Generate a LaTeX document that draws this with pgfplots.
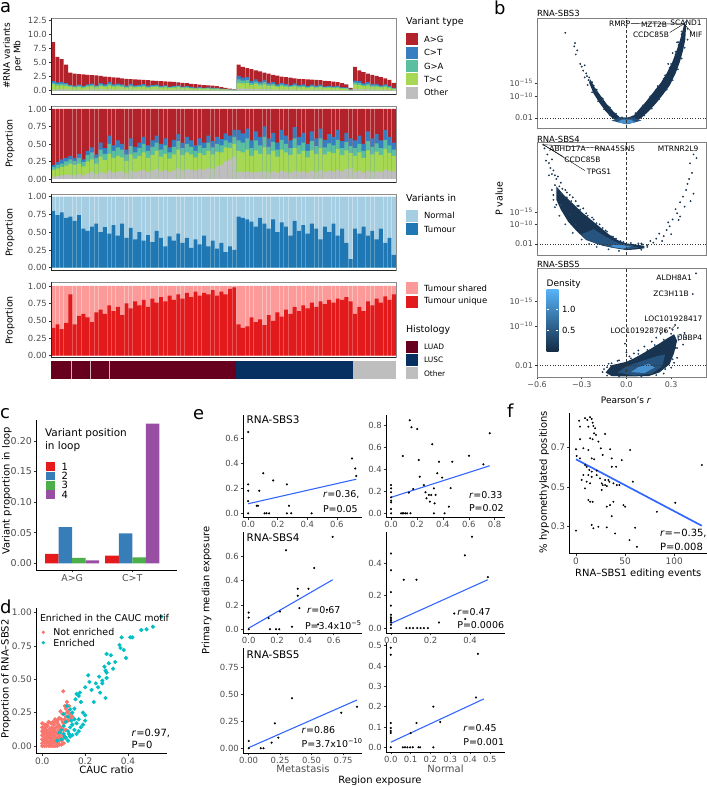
\documentclass[border=0pt]{standalone}
\usepackage{fontspec}
\setmainfont{DejaVu Sans}
\usepackage{pgfplots}
\usepackage{pgfplotstable}
\pgfplotsset{compat=1.18}
\newcommand{\fs}[1]{\fontsize{#1}{#1}\selectfont}
\definecolor{cAG}{RGB}{178,34,42}
\definecolor{cCT}{RGB}{55,126,193}
\definecolor{cGA}{RGB}{92,190,160}
\definecolor{cTC}{RGB}{166,216,84}
\definecolor{cOT}{RGB}{190,190,190}
\definecolor{cNorm}{RGB}{166,206,227}
\definecolor{cTum}{RGB}{31,120,180}
\definecolor{cShr}{RGB}{251,154,153}
\definecolor{cUni}{RGB}{227,26,28}
\definecolor{cLUAD}{RGB}{103,0,31}
\definecolor{cLUSC}{RGB}{5,48,97}
\definecolor{tickg}{RGB}{77,77,77}
\definecolor{navyA}{RGB}{25,52,80}
\definecolor{navyP}{RGB}{36,72,108}
\definecolor{navyB}{RGB}{38,84,126}
\definecolor{navyC}{RGB}{70,146,208}
\definecolor{dbot}{RGB}{19,43,67}
\definecolor{dtop}{RGB}{86,177,247}
\definecolor{c1}{RGB}{228,26,28}
\definecolor{c2}{RGB}{55,126,184}
\definecolor{c3}{RGB}{77,175,74}
\definecolor{c4}{RGB}{152,78,163}
\definecolor{salm}{RGB}{248,118,109}
\definecolor{teal2}{RGB}{0,191,196}
\definecolor{fitb}{RGB}{51,102,255}

\pgfplotstableread{
i tot b g t o p1 p2 p3 p4 tu un one
0 8.6 1.70 1.40 1.10 0.20 0.20 0.17 0.13 0.03 0.80 0.40 1
1 6.0 1.45 1.20 0.90 0.25 0.24 0.20 0.15 0.04 0.74 0.45 1
2 5.6 1.55 1.25 0.95 0.28 0.28 0.22 0.17 0.05 0.78 0.38 1
3 4.6 1.40 1.15 0.87 0.28 0.30 0.25 0.19 0.06 0.70 0.47 1
4 3.2 1.05 0.90 0.70 0.20 0.33 0.28 0.22 0.06 0.72 0.88 1
5 3.0 0.90 0.78 0.60 0.15 0.30 0.26 0.20 0.05 0.66 0.45 1
6 2.95 1.06 0.88 0.65 0.20 0.36 0.30 0.22 0.07 0.74 0.57 1
7 2.9 0.80 0.70 0.52 0.15 0.28 0.24 0.18 0.05 0.55 0.60 1
8 2.8 1.12 0.95 0.70 0.22 0.40 0.34 0.25 0.08 0.52 0.55 1
9 2.75 1.24 1.05 0.77 0.28 0.45 0.38 0.28 0.10 0.58 0.48 1
10 2.7 0.95 0.81 0.60 0.19 0.35 0.30 0.22 0.07 0.62 0.62 1
11 2.6 1.35 1.10 0.83 0.26 0.52 0.42 0.32 0.10 0.50 0.66 1
12 2.5 1.10 0.90 0.68 0.20 0.44 0.36 0.27 0.08 0.57 0.60 1
13 2.45 1.52 1.22 0.88 0.29 0.62 0.50 0.36 0.12 0.48 0.72 1
14 2.35 1.13 0.94 0.70 0.21 0.48 0.40 0.30 0.09 0.60 0.64 1
15 2.3 1.27 1.04 0.76 0.23 0.55 0.45 0.33 0.10 0.45 0.70 1
16 2.2 1.10 0.92 0.68 0.24 0.50 0.42 0.31 0.11 0.62 0.58 1
17 2.1 0.88 0.74 0.55 0.17 0.42 0.35 0.26 0.08 0.42 0.75 1
18 2.05 1.19 0.96 0.72 0.25 0.58 0.47 0.35 0.12 0.56 0.68 1
19 2.0 0.92 0.76 0.58 0.20 0.46 0.38 0.29 0.10 0.40 0.78 1
20 1.95 1.01 0.86 0.64 0.23 0.52 0.44 0.33 0.12 0.50 0.72 1
21 1.9 1.14 0.95 0.72 0.25 0.60 0.50 0.38 0.13 0.38 0.80 1
22 1.85 0.89 0.74 0.56 0.19 0.48 0.40 0.30 0.10 0.46 0.70 1
23 1.8 0.99 0.83 0.61 0.22 0.55 0.46 0.34 0.12 0.36 0.82 1
24 1.75 1.09 0.91 0.70 0.25 0.62 0.52 0.40 0.14 0.52 0.76 1
25 1.7 0.85 0.71 0.54 0.19 0.50 0.42 0.32 0.11 0.42 0.84 1
26 1.65 0.96 0.79 0.59 0.21 0.58 0.48 0.36 0.13 0.30 0.78 1
27 1.6 0.72 0.61 0.46 0.16 0.45 0.38 0.29 0.10 0.44 0.86 1
28 1.55 0.87 0.71 0.54 0.19 0.56 0.46 0.35 0.12 0.38 0.80 1
29 1.48 0.95 0.80 0.62 0.22 0.64 0.54 0.42 0.15 0.48 0.88 1
30 1.4 0.73 0.62 0.48 0.17 0.52 0.44 0.34 0.12 0.35 0.82 1
31 1.32 0.79 0.66 0.50 0.18 0.60 0.50 0.38 0.14 0.42 0.90 1
32 1.22 0.67 0.56 0.43 0.16 0.55 0.46 0.35 0.13 0.28 0.84 1
33 1.15 0.55 0.46 0.36 0.14 0.48 0.40 0.31 0.12 0.40 0.92 1
34 1.08 0.63 0.52 0.40 0.15 0.58 0.48 0.37 0.14 0.33 0.86 1
35 1.0 0.52 0.44 0.34 0.13 0.52 0.44 0.34 0.13 0.45 0.90 1
36 0.95 0.59 0.49 0.38 0.15 0.62 0.52 0.40 0.16 0.30 0.88 1
37 0.9 0.49 0.41 0.32 0.13 0.54 0.45 0.35 0.14 0.38 0.94 1
38 0.8 0.48 0.40 0.31 0.14 0.60 0.50 0.39 0.18 0.27 0.86 1
39 0.65 0.37 0.31 0.25 0.13 0.57 0.48 0.38 0.20 0.35 0.92 1
40 0.5 0.33 0.28 0.23 0.13 0.65 0.55 0.45 0.25 0.22 0.88 1
41 0.38 0.24 0.20 0.17 0.11 0.62 0.52 0.44 0.28 0.30 0.96 1
42 0.22 0.15 0.13 0.11 0.07 0.70 0.60 0.50 0.32 0.25 0.98 1
43 4.6 2.60 2.00 1.40 0.35 0.70 0.55 0.40 0.10 0.72 0.45 1
44 4.2 2.30 1.80 1.30 0.35 0.65 0.52 0.38 0.10 0.70 0.40 1
45 4.0 2.40 1.90 1.35 0.35 0.72 0.58 0.42 0.11 0.68 0.42 1
46 3.8 1.70 1.35 1.00 0.28 0.55 0.44 0.33 0.09 0.65 0.55 1
47 3.6 2.00 1.60 1.20 0.30 0.68 0.55 0.41 0.10 0.58 0.48 1
48 3.4 1.60 1.30 0.95 0.27 0.60 0.48 0.36 0.10 0.70 0.52 1
49 3.2 1.90 1.50 1.10 0.30 0.75 0.60 0.45 0.12 0.62 0.44 1
50 3.0 1.40 1.10 0.85 0.22 0.58 0.46 0.35 0.09 0.55 0.58 1
51 2.8 1.50 1.20 0.90 0.25 0.66 0.53 0.40 0.11 0.68 0.50 1
52 2.65 1.10 0.90 0.68 0.19 0.52 0.42 0.32 0.09 0.50 0.62 1
53 2.5 1.40 1.10 0.84 0.24 0.70 0.56 0.42 0.12 0.64 0.56 1
54 2.4 1.20 0.96 0.73 0.19 0.62 0.50 0.38 0.10 0.58 0.66 1
55 2.3 1.00 0.80 0.62 0.17 0.55 0.44 0.34 0.09 0.45 0.60 1
56 2.2 1.30 1.02 0.77 0.21 0.74 0.58 0.44 0.12 0.66 0.70 1
57 2.1 1.00 0.80 0.60 0.17 0.60 0.48 0.36 0.10 0.52 0.64 1
58 2.05 1.10 0.86 0.66 0.18 0.66 0.52 0.40 0.11 0.60 0.72 1
59 2.0 0.80 0.64 0.50 0.14 0.50 0.40 0.31 0.09 0.48 0.68 1
60 1.95 1.06 0.84 0.64 0.19 0.68 0.54 0.41 0.12 0.62 0.76 1
61 1.9 0.88 0.71 0.55 0.15 0.58 0.47 0.36 0.10 0.55 0.70 1
62 1.85 1.07 0.86 0.65 0.19 0.72 0.58 0.44 0.13 0.40 0.78 1
63 1.75 0.78 0.63 0.49 0.14 0.56 0.45 0.35 0.10 0.58 0.74 1
64 1.7 0.87 0.69 0.53 0.16 0.64 0.51 0.39 0.12 0.50 0.80 1
65 1.6 0.77 0.61 0.47 0.14 0.60 0.48 0.37 0.11 0.62 0.76 1
66 1.5 0.84 0.67 0.52 0.16 0.70 0.56 0.43 0.13 0.45 0.82 1
67 1.35 0.58 0.48 0.37 0.12 0.54 0.44 0.34 0.11 0.55 0.80 1
68 1.1 0.58 0.47 0.36 0.12 0.66 0.53 0.41 0.14 0.35 0.84 1
69 0.5 0.23 0.19 0.15 0.06 0.58 0.47 0.37 0.15 0.12 0.78 1
70 4.2 1.80 1.45 1.10 0.30 0.55 0.44 0.33 0.10 0.55 0.60 1
71 3.6 1.70 1.35 1.00 0.30 0.62 0.50 0.38 0.12 0.48 0.70 1
72 3.3 1.30 1.05 0.80 0.22 0.50 0.40 0.30 0.09 0.58 0.64 1
73 3.0 1.50 1.20 0.90 0.27 0.68 0.54 0.41 0.12 0.45 0.78 1
74 2.8 1.20 0.96 0.73 0.21 0.58 0.46 0.35 0.10 0.52 0.72 1
75 2.6 1.20 0.95 0.73 0.20 0.64 0.51 0.39 0.11 0.40 0.82 1
76 2.4 0.95 0.76 0.59 0.17 0.55 0.44 0.34 0.10 0.55 0.76 1
77 2.2 1.10 0.88 0.68 0.20 0.70 0.56 0.43 0.13 0.35 0.85 1
78 1.9 0.82 0.66 0.50 0.16 0.60 0.48 0.37 0.12 0.42 0.80 1
79 1.4 0.52 0.42 0.33 0.11 0.52 0.42 0.33 0.11 0.18 0.88 1
}\adata

\tikzset{t/.style={inner sep=0pt, outer sep=0pt}}
\pgfplotsset{
  base/.style={scale only axis, anchor=north west, tick align=outside,
    major tick length=2.5pt, tick pos=left,
    every tick/.append style={black!80, line width=0.5pt},
    ticklabel style={font=\fs{8.5}, text=tickg, inner sep=1.5pt},
    /pgf/number format/assume math mode=true},
  classic/.style={base, axis x line*=bottom, axis y line*=left,
    every non boxed x axis/.append style={x axis line style=-},
    every non boxed y axis/.append style={y axis line style=-},
    axis line style={-, black, line width=0.6pt}},
  apanel/.style={base, width=345bp, xmin=-0.5, xmax=79.5, xtick=\empty,
    axis line style={black!45, line width=0.6pt},
    after end axis/.code={\draw[black!85, line width=0.7pt] (rel axis cs:0,1) -- (rel axis cs:0,0) -- (rel axis cs:1,0);}},
  abar/.style={ybar, bar width=0.9, bar shift=0pt, draw=none},
  bpanel/.style={base, width=169bp, xmin=-0.6, xmax=0.534, clip=false,
    axis line style={black!50, line width=0.5pt},
    ticklabel style={font=\fs{8}},
    ytick={2,10,15}, yticklabels={0.01,10\textsuperscript{−10},10\textsuperscript{−15}}},
  pts/.style={only marks, mark=*, mark size=0.7pt, mark options={draw=none}},
  epts/.style={only marks, mark=*, mark size=0.85pt, black, mark options={draw=none}},
  efit/.style={fitb, line width=1.1pt},
}

\begin{document}
\begin{tikzpicture}[x=1bp,y=1bp]
\useasboundingbox (0,0) rectangle (707,787);

% ================= panel a =================
\node[t, anchor=base west, font=\fs{18}] at (0,774.3) {a};
\begin{axis}[apanel, at={(51bp,768.7bp)}, height=75.7bp, ymin=-0.58, ymax=12.8,
  ytick={0,2.5,5,7.5,10,12.5}, yticklabels={0.0,2.5,5.0,7.5,10.0,12.5}]
\addplot[abar, fill=cAG] table[x=i,y=tot]{\adata};
\addplot[abar, fill=cCT] table[x=i,y=b]{\adata};
\addplot[abar, fill=cGA] table[x=i,y=g]{\adata};
\addplot[abar, fill=cTC] table[x=i,y=t]{\adata};
\addplot[abar, fill=cOT] table[x=i,y=o]{\adata};
\end{axis}
\begin{axis}[apanel, at={(51bp,681bp)}, height=76.7bp, ymin=-0.053, ymax=1.043,
  ytick={0,0.25,0.5,0.75,1}, yticklabels={0.00,0.25,0.50,0.75,1.00}]
\addplot[abar, fill=cAG] table[x=i,y=one]{\adata};
\addplot[abar, fill=cCT] table[x=i,y=p1]{\adata};
\addplot[abar, fill=cGA] table[x=i,y=p2]{\adata};
\addplot[abar, fill=cTC] table[x=i,y=p3]{\adata};
\addplot[abar, fill=cOT] table[x=i,y=p4]{\adata};
\end{axis}
\begin{axis}[apanel, at={(51bp,593bp)}, height=76.7bp, ymin=-0.042, ymax=1.038,
  ytick={0,0.25,0.5,0.75,1}, yticklabels={0.00,0.25,0.50,0.75,1.00}]
\addplot[abar, fill=cNorm] table[x=i,y=one]{\adata};
\addplot[abar, fill=cTum] table[x=i,y=tu]{\adata};
\end{axis}
\begin{axis}[apanel, at={(51bp,504.7bp)}, height=75.4bp, ymin=-0.029, ymax=1.053,
  ytick={0,0.25,0.5,0.75,1}, yticklabels={0.00,0.25,0.50,0.75,1.00}]
\addplot[abar, fill=cShr] table[x=i,y=one]{\adata};
\addplot[abar, fill=cUni] table[x=i,y=un]{\adata};
\end{axis}
\begin{axis}[scale only axis, anchor=north west, at={(51bp,426.3bp)}, width=345bp, height=18.6bp,
  xmin=-0.5, xmax=79.5, ymin=0, ymax=1, hide axis]
\addplot[fill=cLUAD, draw=none] coordinates {(-0.5,0) (-0.5,1) (42.5,1) (42.5,0)};
\addplot[fill=cLUSC, draw=none] coordinates {(42.5,0) (42.5,1) (69.5,1) (69.5,0)};
\addplot[fill=cOT, draw=none] coordinates {(69.5,0) (69.5,1) (79.5,1) (79.5,0)};
\addplot[white!70!cLUAD, line width=0.5pt] coordinates {(4.14,0) (4.14,1)};
\addplot[white!70!cLUAD, line width=0.5pt] coordinates {(8.54,0) (8.54,1)};
\addplot[white!70!cLUAD, line width=0.5pt] coordinates {(12.95,0) (12.95,1)};
\end{axis}
% y titles
\node[t, rotate=90, font=\fs{9}] at (6.5,731) {\#RNA variants};
\node[t, rotate=90, font=\fs{9}] at (18,731) {per Mb};
\node[t, rotate=90, font=\fs{9.5}] at (10,643.5) {Proportion};
\node[t, rotate=90, font=\fs{9.5}] at (10,554.5) {Proportion};
\node[t, rotate=90, font=\fs{9.5}] at (10,466.5) {Proportion};
% legends
\node[t, anchor=west, font=\fs{9.5}] at (406,765.3) {Variant type};
\foreach \yy/\cc/\ll in {747.7/cAG/A>G, 734.3/cCT/C>T, 721/cGA/G>A, 707.7/cTC/T>C, 694.3/cOT/Other}{
  \fill[\cc] (406,\yy-6) rectangle (418,\yy+6);
  \node[t, anchor=west, font=\fs{8.5}] at (424,\yy) {\ll};}
\node[t, anchor=west, font=\fs{9.5}] at (406,589) {Variants in};
\foreach \yy/\cc/\ll in {571.3/cNorm/Normal, 558/cTum/Tumour}{
  \fill[\cc] (406,\yy-6) rectangle (418,\yy+6);
  \node[t, anchor=west, font=\fs{8.5}] at (424,\yy) {\ll};}
\foreach \yy/\cc/\ll in {498.7/cShr/Tumour shared, 485.4/cUni/Tumour unique}{
  \fill[\cc] (406,\yy-6) rectangle (418,\yy+6);
  \node[t, anchor=west, font=\fs{8.5}] at (424,\yy) {\ll};}
\node[t, anchor=west, font=\fs{9.5}] at (406,457) {Histology};
\foreach \yy/\cc/\ll in {440.3/cLUAD/LUAD, 427/cLUSC/LUSC, 413.7/cOT/Other}{
  \fill[\cc] (406,\yy-6) rectangle (418,\yy+6);
  \node[t, anchor=west, font=\fs{7.5}] at (424,\yy) {\ll};}

% ================= panel b =================
\node[t, anchor=base west, font=\fs{18}] at (494,772) {b};
\begin{axis}[bpanel, at={(537bp,769bp)}, height=110bp, ymin=-1.7, ymax=39, xtick=\empty]
\addplot[fill=navyA, draw=none] coordinates {(-0.02,1.5)(0.05,3)(0.09,5.5)(0.13,8)(0.18,11.5)(0.23,15)(0.27,18.5)(0.31,23)(0.34,27.5)(0.36,31)(0.38,35)(0.39,37.5)(0.4,36)(0.395,31)(0.38,27)(0.36,23)(0.33,18.5)(0.29,14)(0.25,11)(0.2,7.5)(0.15,4.5)(0.1,2)(0.05,0.3)(0,-0.3)};
\addplot[fill=navyA, draw=none] coordinates {(0,-0.3)(-0.05,0.5)(-0.1,2.2)(-0.14,4.5)(-0.18,7.5)(-0.22,11)(-0.25,15)(-0.245,16.5)(-0.215,13.5)(-0.17,10)(-0.13,7)(-0.09,4.5)(-0.05,2.5)(-0.02,1.5)(0.02,1.5)};
\addplot[fill=navyB, draw=none] coordinates {(-0.1,1)(0,-0.3)(0.1,1)(0.05,2.2)(-0.05,2.2)};
\addplot[fill=navyC, draw=none] coordinates {(-0.06,0.4)(0,-0.2)(0.06,0.4)(0.03,1.4)(-0.03,1.4)};
\addplot[pts, navyA] coordinates {(-0.41,33.5)(-0.345,29.7)(-0.35,28.5)(-0.33,27)(-0.34,25.5)(-0.31,22)(-0.3,21)(-0.28,21.5)(-0.29,19.5)(-0.27,18.5)(-0.265,17.5)(-0.25,17)(-0.255,16)(-0.23,15.2)(-0.22,14)(-0.28,17)(-0.2,12.5)(-0.19,10.5)(-0.16,9.2)(-0.15,8)(-0.12,6.2)(-0.1,4.8)(-0.08,3.6)(-0.06,2.6)(0.04,2.5)(0.07,3.2)(0.1,5.6)(0.12,6)(0.15,8.6)(0.17,9.1)(0.2,12.4)(0.22,11.8)(0.25,16.5)(0.26,14)(0.29,20.5)(0.3,18)(0.33,25.5)(0.32,22)(0.35,29)(0.36,27)(0.37,33)(0.38,31)(0.385,36.8)(0.39,34.5)(0.4,37.5)(0.34,30)(0.31,26)(0.28,22)};
\addplot[pts, navyP] coordinates {(0.02,2)(0.06,3.8)(0.11,6.6)(0.16,10)(0.21,13.8)(0.26,17.8)(0.3,22)(0.33,26.5)(0.35,30)(0.37,34)(0.41,35)(0.41,31)(0.39,28)(0.37,24)(0.345,20)(0.31,16)(0.27,12.5)(0.22,9)(0.17,5.5)(0.12,3)(0.07,1)(-0.03,2.2)(-0.07,3.6)(-0.11,5.8)(-0.16,8.8)(-0.2,12)(-0.24,15.5)(-0.26,14.2)(-0.23,11.5)(-0.19,8.2)(-0.15,5.2)(-0.11,3)(-0.07,1.2)};
\draw[densely dashed, black!80, line width=0.5pt] (axis cs:0,-1.7) -- (axis cs:0,39);
\draw[dotted, black!80, line width=0.6pt] (axis cs:-0.6,2) -- (axis cs:0.534,2);
\draw[black, line width=0.4pt] (axis cs:0.03,36.9) -- (axis cs:0.385,36.8);
\draw[black, line width=0.4pt] (axis cs:0.29,33.6) -- (axis cs:0.385,36.8);
\draw[black, line width=0.4pt] (axis cs:0.44,33.6) -- (axis cs:0.385,36.8);
\node[t, font=\fs{7.5}] at (axis cs:-0.045,36.7) {RMRP};
\node[t, font=\fs{7.5}] at (axis cs:0.185,36.6) {MZT2B};
\node[t, font=\fs{7.5}] at (axis cs:0.40,37.3) {SCAND1};
\node[t, font=\fs{7.5}] at (axis cs:0.165,32.7) {CCDC85B};
\node[t, font=\fs{7.5}] at (axis cs:0.466,32.7) {MIF};
\end{axis}
\begin{axis}[bpanel, at={(537bp,645bp)}, height=113bp, ymin=-2.5, ymax=43.6, xtick=\empty]
\addplot[fill=navyA, draw=none] coordinates {(-0.47,25.5)(-0.42,22)(-0.36,18.5)(-0.3,15)(-0.24,12)(-0.18,9)(-0.12,6)(-0.06,3.6)(0,2.2)(0.06,1.8)(0.12,1.2)(0.12,0.2)(0.05,-0.3)(0,-0.5)(-0.08,0.3)(-0.16,1.3)(-0.27,3.6)(-0.33,7)(-0.39,11)(-0.44,16)(-0.47,20)};
\addplot[fill=navyB, draw=none] coordinates {(-0.3,6)(-0.22,8)(-0.14,5)(-0.06,2.5)(0.04,1.5)(0.08,0.5)(0,-0.2)(-0.1,0.6)(-0.2,2)(-0.28,4.2)};
\addplot[fill=navyC, draw=none] coordinates {(-0.1,1.8)(-0.03,1.6)(0.03,0.9)(-0.02,0.1)(-0.1,0.8)};
\addplot[pts, navyA] coordinates {(-0.558,42.5)(-0.55,41)(-0.53,38.5)(-0.54,36)(-0.52,35)(-0.5,36.5)(-0.51,33)(-0.49,32)(-0.48,30)(-0.5,30.5)(-0.47,28.5)(-0.46,29.5)(-0.44,27)(-0.45,25.5)(-0.43,24.5)(-0.41,24)(-0.4,23)(-0.38,22)(-0.36,21)(-0.34,19.5)(-0.32,17.5)(-0.29,16.5)(-0.27,14.5)(-0.22,12)(-0.18,10)(-0.14,7.5)(-0.1,5)(-0.52,30)(-0.48,26)(-0.42,20)(-0.47,18)(-0.49,22)(0.05,1.2)(0.1,2.2)(0.14,1.4)(0.16,3.2)(0.2,4.2)(0.22,6.2)(0.25,5.2)(0.24,3.2)(0.27,7.7)(0.29,9.2)(0.28,10.8)(0.31,12)(0.34,14.5)(0.35,11.8)(0.36,13.2)(0.33,16.2)(0.38,21.3)(0.36,19)(0.4,24)(0.41,26.5)(0.39,17.2)(0.42,28.5)(0.427,34.9)(0.47,37)(0.45,38.5)(0.44,31)(0.45,22.5)(0.43,19.5)(0.3,6)(0.18,2.5)};
\addplot[pts, navyP] coordinates {(-0.46,24)(-0.44,22.5)(-0.4,21)(-0.37,19.5)(-0.33,17.5)(-0.31,16)(-0.26,13.5)(-0.23,12.8)(-0.2,10.5)(-0.16,8.5)(-0.13,7)(-0.09,5)(-0.07,4.2)(-0.04,3.2)(-0.02,2.8)(0.03,2.4)(0.08,2.2)(0.11,1.8)(0.14,0.8)(0.1,-0.4)(-0.05,-0.8)(-0.12,-0.2)(-0.2,0.8)(-0.25,2)(-0.3,3.8)(-0.36,6.5)(-0.41,10)(-0.45,13.5)(-0.48,17)(-0.49,20)(-0.5,24)(-0.44,18)(-0.38,14)(-0.34,10)};
\draw[densely dashed, black!80, line width=0.5pt] (axis cs:0,-2.5) -- (axis cs:0,43.6);
\draw[dotted, black!80, line width=0.6pt] (axis cs:-0.6,2) -- (axis cs:0.534,2);
\draw[black, line width=0.4pt] (axis cs:-0.558,42.5) -- (axis cs:-0.15,41);
\draw[black, line width=0.4pt] (axis cs:-0.558,42.5) -- (axis cs:-0.423,37.6);
\draw[black, line width=0.4pt] (axis cs:-0.558,42.5) -- (axis cs:-0.278,31.9);
\node[t, font=\fs{7.5}] at (axis cs:-0.395,41) {ABHD17A};
\node[t, font=\fs{7.5}] at (axis cs:-0.077,41) {RNA45SN5};
\node[t, font=\fs{7.5}] at (axis cs:-0.295,36.3) {CCDC85B};
\node[t, font=\fs{7.5}] at (axis cs:-0.184,31.3) {TPGS1};
\node[t, font=\fs{7.5}] at (axis cs:0.347,41) {MTRNR2L9};
\end{axis}
\begin{axis}[bpanel, at={(537bp,519bp)}, height=109bp, ymin=-0.4, ymax=21.8,
  xtick={-0.6,-0.3,0,0.3}, xticklabels={−0.6,−0.3,0.0,0.3}]
\addplot[fill=navyA, draw=none] coordinates {(-0.14,0.5)(-0.1,2)(0,2.7)(0.05,3.4)(0.11,4.4)(0.16,5.3)(0.22,6.4)(0.27,7.4)(0.32,8.3)(0.34,7)(0.32,4.5)(0.29,2.2)(0.22,0.5)(0.15,-0.2)(0,-0.3)(-0.1,-0.2)};
\addplot[fill=navyB, draw=none] coordinates {(-0.06,0.5)(0,1.8)(0.1,2.8)(0.2,3.8)(0.26,4.2)(0.24,1.8)(0.17,0.3)(0.05,-0.1)};
\addplot[fill=navyC, draw=none] coordinates {(0.03,0.6)(0.08,1.6)(0.15,2.3)(0.19,1.5)(0.12,0.4)};
\addplot[pts, navyA] coordinates {(0.12,5.8)(0.17,6.8)(0.2,7.6)(0.23,8.4)(0.26,9)(0.29,9.6)(0.31,9.2)(0.327,10.2)(0.345,9.6)(0.36,8.2)(0.35,7.2)(0.38,6.2)(0.4,7.6)(0.39,8.6)(0.445,16.5)(0.467,20.7)(-0.01,6.4)(0.0,4.6)(0.02,3.8)(0.05,4.4)(0.08,5)(-0.05,3)(-0.1,2.4)(-0.13,1.6)(-0.16,0.6)(0.33,5.5)(0.34,3.5)(0.32,2.5)(0.3,1.5)(0.25,0.3)};
\addplot[pts, navyP] coordinates {(-0.15,1.2)(-0.12,2.3)(-0.06,2.9)(0.03,3.4)(0.08,4.3)(0.14,5.1)(0.19,6.1)(0.25,7.2)(0.3,8.4)(0.35,7.8)(0.34,5.5)(0.31,3.2)(0.26,1.2)(0.2,0)(0.1,-0.3)(-0.05,-0.35)(-0.13,-0.1)};
\draw[densely dashed, black!80, line width=0.5pt] (axis cs:0,-0.4) -- (axis cs:0,21.8);
\draw[dotted, black!80, line width=0.6pt] (axis cs:-0.6,2) -- (axis cs:0.534,2);
\draw[black, line width=0.4pt] (axis cs:0.3,9.3) -- (axis cs:0.327,10.1);
\draw[black, line width=0.4pt] (axis cs:0.395,8.1) -- (axis cs:0.39,8.6);
\node[t, font=\fs{7.5}] at (axis cs:0.32,19.9) {ALDH8A1};
\node[t, font=\fs{7.5}] at (axis cs:0.30,16.5) {ZC3H11B};
\node[t, font=\fs{7.5}] at (axis cs:0.315,11.5) {LOC101928417};
\node[t, font=\fs{7.5}] at (axis cs:0.088,9) {LOC101928786};
\node[t, font=\fs{7.5}] at (axis cs:0.424,7.65) {UBBP4};
\end{axis}
\node[t, anchor=base west, font=\fs{8.5}] at (537,770.5) {RNA-SBS3};
\node[t, anchor=base west, font=\fs{8.5}] at (537,644) {RNA-SBS4};
\node[t, anchor=base west, font=\fs{8.5}] at (537,519.5) {RNA-SBS5};
\node[t, rotate=90, font=\fs{9.5}] at (499,588.5) {P value};
\node[t, font=\fs{9}] at (626,387) {Pearson's \textit{r}};
% density colourbar
\node[t, anchor=west, font=\fs{9}] at (546.7,503) {Density};
\shade[bottom color=dbot, top color=dtop] (546.7,435.3) rectangle (558.3,497);
\draw[white, line width=0.5pt] (546.7,477.7) -- (549,477.7) (556,477.7) -- (558.3,477.7)
  (546.7,457) -- (549,457) (556,457) -- (558.3,457);
\node[t, anchor=west, font=\fs{8.5}] at (562,477.7) {1.0};
\node[t, anchor=west, font=\fs{8.5}] at (562,457) {0.5};

% ================= panel c =================
\node[t, anchor=base west, font=\fs{18}] at (0,368.7) {c};
\begin{axis}[classic, at={(36bp,367bp)}, width=140.7bp, height=150bp,
  xmin=0.397, xmax=2.74, ymin=-0.011, ymax=0.234,
  xtick={1,2}, xticklabels={A>G,C>T},
  ytick={0,0.05,0.1,0.15,0.2}, yticklabels={0.00,0.05,0.10,0.15,0.20},
  ticklabel style={font=\fs{9.5}}]
\addplot[ybar, bar width=0.225, bar shift=0pt, fill=c1, draw=none] coordinates {(0.6625,0.0152) (1.6625,0.0124)};
\addplot[ybar, bar width=0.225, bar shift=0pt, fill=c2, draw=none] coordinates {(0.8875,0.059) (1.8875,0.049)};
\addplot[ybar, bar width=0.225, bar shift=0pt, fill=c3, draw=none] coordinates {(1.1125,0.0087) (2.1125,0.0098)};
\addplot[ybar, bar width=0.225, bar shift=0pt, fill=c4, draw=none] coordinates {(1.3375,0.0049) (2.3375,0.228)};
\end{axis}
\node[t, rotate=90, font=\fs{10}] at (7,296) {Variant proportion in loop};
\node[t, anchor=west, font=\fs{10.5}] at (45,353) {Variant position};
\node[t, anchor=west, font=\fs{10.5}] at (45,340.3) {in loop};
\foreach \yy/\cc/\ll in {320.3/c1/1, 311/c2/2, 301.7/c3/3, 292.4/c4/4}{
  \fill[\cc] (46,\yy-4.4) rectangle (55,\yy+4.4);
  \node[t, anchor=west, font=\fs{10}] at (61.7,\yy) {\ll};}

% ================= panel d =================
\node[t, anchor=base west, font=\fs{18}] at (0,173.7) {d};
\begin{axis}[classic, at={(36bp,179bp)}, width=130.7bp, height=145.3bp,
  xmin=-0.029, xmax=0.58, ymin=-0.055, ymax=1.035,
  xtick={0,0.2,0.4}, xticklabels={0.0,0.2,0.4},
  ytick={0,0.25,0.5,0.75,1}, yticklabels={0.00,0.25,0.50,0.75,1.00},
  ticklabel style={font=\fs{9}}]
\addplot[only marks, mark=*, mark size=1.9pt, salm, mark options={draw=none}] coordinates {(0,0)(0.01,0)(0.02,0)(0.03,0)(0.04,0)(0.05,0)(0.06,0)(0.07,0)(0.08,0.01)(0.09,0.01)(0.1,0.02)(0,0.02)(0,0.05)(0,0.08)(0,0.11)(0,0.14)(0,0.17)(0.005,0.04)(0.005,0.09)(0.005,0.12)(0.01,0.03)(0.01,0.07)(0.01,0.1)(0.01,0.13)(0.01,0.16)(0.015,0.05)(0.015,0.1)(0.015,0.14)(0.02,0.02)(0.02,0.06)(0.02,0.09)(0.02,0.12)(0.02,0.16)(0.025,0.04)(0.025,0.08)(0.025,0.11)(0.025,0.15)(0.03,0.03)(0.03,0.07)(0.03,0.1)(0.03,0.18)(0.035,0.02)(0.035,0.06)(0.035,0.09)(0.035,0.13)(0.04,0.04)(0.04,0.08)(0.04,0.11)(0.04,0.17)(0.045,0.02)(0.045,0.06)(0.045,0.1)(0.045,0.14)(0.05,0.05)(0.05,0.09)(0.05,0.13)(0.05,0.18)(0.055,0.03)(0.055,0.08)(0.055,0.12)(0.055,0.16)(0.06,0.03)(0.06,0.07)(0.06,0.11)(0.06,0.2)(0.065,0.02)(0.065,0.06)(0.065,0.1)(0.065,0.14)(0.065,0.18)(0.07,0.05)(0.07,0.09)(0.07,0.18)(0.075,0.03)(0.075,0.07)(0.075,0.12)(0.075,0.16)(0.075,0.2)(0.08,0.07)(0.08,0.15)(0.08,0.21)(0.085,0.05)(0.085,0.1)(0.085,0.14)(0.085,0.26)(0.09,0.04)(0.09,0.13)(0.09,0.2)(0.095,0.08)(0.095,0.18)(0.095,0.24)(0.1,0.06)(0.1,0.12)(0.1,0.17)(0.098,0.41)(0.105,0.2)(0.105,0.3)(0.11,0.12)(0.11,0.22)(0.11,0.28)(0.115,0.25)(0.115,0.33)(0.12,0.19)(0.12,0.26)(0.125,0.3)(0.13,0.21)(0.13,0.24)(0.14,0.22)};
\addplot[only marks, mark=*, mark size=1.9pt, teal2, mark options={draw=none}] coordinates {(0.555,0.97)(0.516,0.895)(0.486,0.875)(0.462,0.87)(0.42,0.815)(0.41,0.815)(0.37,0.815)(0.36,0.757)(0.365,0.735)(0.39,0.66)(0.30,0.69)(0.31,0.62)(0.29,0.595)(0.295,0.565)(0.30,0.51)(0.265,0.52)(0.214,0.53)(0.22,0.48)(0.20,0.44)(0.26,0.44)(0.295,0.36)(0.175,0.40)(0.17,0.375)(0.155,0.35)(0.16,0.39)(0.115,0.30)(0.13,0.275)(0.10,0.24)(0.19,0.25)(0.135,0.19)(0.28,0.49)(0.32,0.68)(0.3,0.55)(0.25,0.47)(0.23,0.42)(0.18,0.33)(0.15,0.28)(0.14,0.25)(0.12,0.22)(0.11,0.18)(0.1,0.15)(0.09,0.12)(0.08,0.1)(0.1,0.09)(0.12,0.11)(0.13,0.14)(0.15,0.12)(0.16,0.17)(0.17,0.2)(0.2,0.23)(0.11,0.06)(0.13,0.07)(0.09,0.05)(0.14,0.08)(0.16,0.09)(0.12,0.04)(0.07,0.04)(0.18,0.14)(0.2,0.19)(0.24,0.33)(0.27,0.4)(0.28,0.47)(0.33,0.58)(0.38,0.72)(0.34,0.63)(0.14,0.16)(0.15,0.2)(0.17,0.11)(0.19,0.16)(0.125,0.09)(0.105,0.07)};
\end{axis}
\node[t, rotate=90, font=\fs{10}] at (6,108) {Proportion of RNA–SBS2};
\node[t, font=\fs{10}] at (106.5,17) {CAUC ratio};
\node[t, anchor=west, font=\fs{9.5}] at (40,168.7) {Enriched in the CAUC motif};
\fill[salm] (43.3,154.7) circle (1.8);
\node[t, anchor=west, font=\fs{9.5}] at (53.3,154.7) {Not enriched};
\fill[teal2] (43.3,144.3) circle (1.8);
\node[t, anchor=west, font=\fs{9.5}] at (53.3,144.3) {Enriched};
\node[t, anchor=west, font=\fs{10}] at (131.7,53.7) {\textit{r}=0.97,};
\node[t, anchor=west, font=\fs{10}] at (131.7,42) {P=0};

% ================= panel e =================
\node[t, anchor=base west, font=\fs{18}] at (193,367) {e};
\begin{axis}[classic, at={(243bp,372bp)}, width=119bp, height=102.3bp,
  xmin=-0.035, xmax=0.77, ymin=-0.032, ymax=0.79,
  xtick={0,0.2,0.4,0.6}, xticklabels={0.0,0.2,0.4,0.6},
  ytick={0,0.2,0.4,0.6}, yticklabels={0.0,0.2,0.4,0.6}]
\addplot[epts] coordinates {(0,0.653)(0,0.232)(0,0.181)(0,0.098)(0,0)(0.058,0.061)(0.067,0.061)(0.075,0.181)(0.102,0.322)(0.111,0)(0.124,0)(0.142,0)(0.169,0.264)(0.262,0.232)(0.262,0)(0.276,0.061)(0.291,0)(0.429,0)(0.702,0.44)(0.724,0.36)(0.731,0.30)};
\addplot[efit] coordinates {(0,0.077) (0.731,0.274)};
\end{axis}
\begin{axis}[classic, at={(386bp,372bp)}, width=119bp, height=102.3bp,
  xmin=-0.039, xmax=0.88, ymin=-0.036, ymax=0.897,
  xtick={0,0.2,0.4,0.6,0.8}, xticklabels={0.0,0.2,0.4,0.6,0.8},
  ytick={0,0.2,0.4,0.6,0.8}, yticklabels={0.0,0.2,0.4,0.6,0.8}]
\addplot[epts] coordinates {(0,0.258)(0,0.228)(0,0.192)(0,0.146)(0,0.116)(0,0.1)(0,0.04)(0,0)(0.078,0)(0.088,0)(0.098,0)(0.111,0)(0.124,0)(0.15,0)(0.09,0.523)(0.145,0.849)(0.158,0.785)(0.202,0.769)(0.214,0.486)(0.222,0.334)(0.171,0.222)(0.137,0.189)(0.253,0.258)(0.266,0.192)(0.274,0.137)(0.292,0.168)(0.31,0.168)(0.3,0.107)(0.331,0.228)(0.318,0.63)(0.344,0.168)(0.336,0.091)(0.331,0)(0.357,0.365)(0.37,0.471)(0.395,0.326)(0.413,0)(0.447,0.061)(0.46,0.231)(0.473,0.471)(0.602,0.526)(0.713,0.447)(0.762,0.73)};
\addplot[efit] coordinates {(0,0.146) (0.762,0.434)};
\end{axis}
\begin{axis}[classic, at={(243bp,255bp)}, width=119bp, height=101bp,
  xmin=-0.04, xmax=0.8, ymin=-0.031, ymax=0.80,
  xtick={0,0.2,0.4,0.6}, xticklabels={0.0,0.2,0.4,0.6},
  ytick={0,0.2,0.4,0.6}, yticklabels={0.0,0.2,0.4,0.6}]
\addplot[epts] coordinates {(0.593,0.76)(0.263,0.65)(0.463,0.504)(0.346,0.333)(0.423,0.333)(0.346,0.275)(0.358,0.174)(0.221,0.146)(0,0.137)(0,0.096)(0.141,0.091)(0,0)(0.15,0)(0.193,0)(0.216,0)(0.306,0.021)(0.553,0.16)(0.49,0.04)};
\addplot[efit] coordinates {(0,0.008) (0.593,0.407)};
\end{axis}
\begin{axis}[classic, at={(386bp,255bp)}, width=119bp, height=101bp,
  xmin=-0.025, xmax=0.577, ymin=-0.03, ymax=0.59,
  xtick={0,0.2,0.4}, xticklabels={0.0,0.2,0.4},
  ytick={0,0.2,0.4}, yticklabels={0.0,0.2,0.4}]
\addplot[epts] coordinates {(0,0.458)(0,0.355)(0,0.221)(0,0.138)(0,0.082)(0,0.066)(0,0.056)(0,0.045)(0,0.035)(0,0.021)(0,0)(0.065,0.297)(0.129,0.297)(0.078,0)(0.095,0)(0.112,0)(0.133,0)(0.15,0)(0.167,0)(0.187,0)(0.243,0.035)(0.32,0.09)(0.376,0.056)(0.374,0.447)(0.41,0.561)(0.49,0.313)};
\addplot[efit] coordinates {(0,0.029) (0.49,0.297)};
\end{axis}
\begin{axis}[classic, at={(243bp,139bp)}, width=119bp, height=105bp,
  xmin=-0.045, xmax=0.9, ymin=-0.044, ymax=0.933,
  xtick={0,0.25,0.5,0.75}, xticklabels={0.00,0.25,0.50,0.75},
  ytick={0,0.25,0.5,0.75}, yticklabels={0.00,0.25,0.50,0.75}]
\addplot[epts] coordinates {(0,0.068)(0,0)(0.096,0)(0.117,0)(0.182,0.052)(0.208,0.232)(0.235,0.099)(0.344,0.465)(0.735,0.331)(0.86,0.387)};
\addplot[efit] coordinates {(0,0.006) (0.86,0.449)};
\end{axis}
\begin{axis}[classic, at={(386bp,144bp)}, width=119bp, height=109bp,
  xmin=-0.024, xmax=0.577, ymin=-0.023, ymax=0.513,
  xtick={0,0.1,0.2,0.3,0.4,0.5}, xticklabels={0.0,0.1,0.2,0.3,0.4,0.5},
  ytick={0,0.1,0.2,0.3,0.4,0.5}, yticklabels={0.0,0.1,0.2,0.3,0.4,0.5}]
\addplot[epts] coordinates {(0,0.49)(0,0.455)(0,0.12)(0,0.095)(0,0.08)(0,0.07)(0,0)(0.061,0)(0.072,0)(0.084,0)(0.098,0)(0.111,0)(0.1,0.07)(0.13,0.12)(0.14,0)(0.148,0)(0.215,0.2)(0.215,0)(0.25,0.125)(0.44,0.46)(0.43,0.245)};
\addplot[efit] coordinates {(0,0.025) (0.47,0.238)};
\end{axis}
\node[t, anchor=west, font=\fs{10.5}] at (246.7,367) {RNA-SBS3};
\node[t, anchor=west, font=\fs{10.5}] at (246.7,249) {RNA-SBS4};
\node[t, anchor=west, font=\fs{10.5}] at (246.7,132) {RNA-SBS5};
\node[t, anchor=west, font=\fs{9.5}] at (323,292) {\textit{r}=0.36,};
\node[t, anchor=west, font=\fs{9.5}] at (323,278) {P=0.05};
\node[t, anchor=west, font=\fs{9.5}] at (469,292) {\textit{r}=0.33};
\node[t, anchor=west, font=\fs{9.5}] at (469,278.7) {P=0.02};
\node[t, anchor=west, font=\fs{9.5}] at (307,177) {\textit{r}=0.67};
\node[t, anchor=west, font=\fs{9.5}] at (305,162) {P=3.4x10\textsuperscript{−5}};
\node[t, anchor=west, font=\fs{9.5}] at (457.3,175) {\textit{r}=0.47};
\node[t, anchor=west, font=\fs{9.5}] at (457.3,162) {P=0.0006};
\node[t, anchor=west, font=\fs{9.5}] at (301.7,57) {\textit{r}=0.86};
\node[t, anchor=west, font=\fs{9.5}] at (301.7,43.7) {P=3.7x10\textsuperscript{−10}};
\node[t, anchor=west, font=\fs{9.5}] at (463.3,59) {\textit{r}=0.45};
\node[t, anchor=west, font=\fs{9.5}] at (463.3,45.3) {P=0.001};
\node[t, font=\fs{10}, text=tickg] at (303,18) {Metastasis};
\node[t, font=\fs{10}, text=tickg] at (445.5,18) {Normal};
\node[t, font=\fs{10}] at (380,6.5) {Region exposure};
\node[t, rotate=90, font=\fs{10}] at (206.7,196.5) {Primary median exposure};

% ================= panel f =================
\node[t, anchor=base west, font=\fs{18}] at (507,369) {f};
\begin{axis}[classic, at={(569.3bp,374.3bp)}, width=137.4bp, height=140.6bp,
  xmin=-6.8, xmax=133, ymin=0.163, ymax=0.878,
  xtick={0,50,100}, ytick={0.3,0.5,0.7}, ticklabel style={font=\fs{9}}]
\addplot[only marks, mark=*, mark size=0.75pt, black, mark options={draw=none}] coordinates {(3.1,0.837)(9.2,0.85)(11.5,0.841)(14.3,0.855)(16,0.846)(17,0.827)(4.1,0.807)(12.6,0.807)(17.7,0.81)(19.4,0.799)(18.4,0.773)(20.4,0.765)(29.6,0.77)(4.1,0.743)(14.3,0.748)(17,0.743)(22.8,0.731)(25.2,0.697)(7.5,0.697)(12.6,0.688)(16,0.646)(18.4,0.641)(34.7,0.692)(36.4,0.646)(27.2,0.663)(0,0.692)(0.7,0.658)(4.1,0.646)(9.2,0.612)(10.9,0.603)(13.6,0.587)(16,0.578)(21.1,0.583)(7.5,0.561)(12.6,0.561)(16,0.552)(5.8,0.536)(10.9,0.527)(9.2,0.493)(14.3,0.519)(21.1,0.561)(24.5,0.544)(26.2,0.519)(27.2,0.51)(29.6,0.536)(33,0.536)(29.6,0.51)(38.1,0.519)(41.5,0.51)(44.2,0.51)(46.6,0.637)(55.1,0.688)(36.4,0.603)(40.8,0.603)(26.2,0.485)(31.3,0.505)(34,0.527)(14.3,0.425)(17,0.425)(12.6,0.434)(31.3,0.4)(34.7,0.408)(38.1,0.425)(48.3,0.408)(50,0.4)(36.4,0.352)(22.8,0.298)(16,0.307)(17.7,0.29)(31.3,0.295)(39.8,0.264)(54.5,0.23)(62,0.196)(57.8,0.527)(82.3,0.374)(101,0.42)(128,0.612)(0,0.278)(60.2,0.293)};
\addplot[fitb, line width=1.7pt] coordinates {(0,0.641) (128,0.303)};
\end{axis}
\node[t, rotate=90, font=\fs{10}] at (544,305) {\% hypomethylated positions};
\node[t, font=\fs{10}] at (638.3,213.7) {RNA–SBS1 editing events};
\node[t, anchor=west, font=\fs{10}] at (660,253.7) {\textit{r}=−0.35,};
\node[t, anchor=west, font=\fs{10}] at (660,240.3) {P=0.008};
\end{tikzpicture}
\end{document}
